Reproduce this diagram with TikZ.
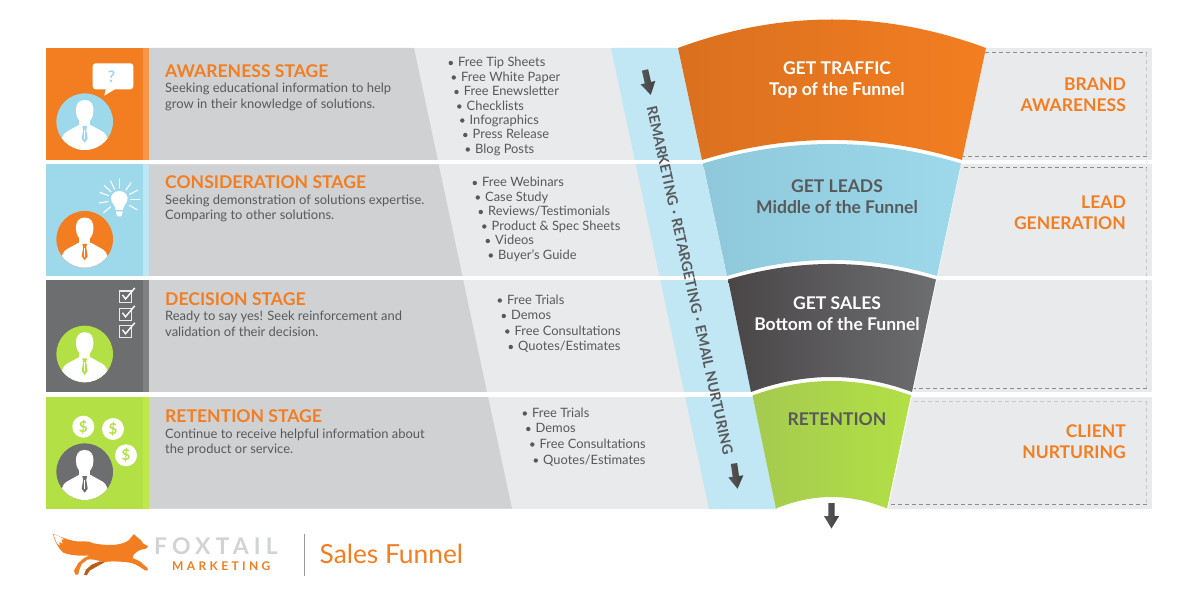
\documentclass[tikz,border=0pt]{standalone}
\usepackage{fontspec}
\setmainfont{Lato}
\newfontfamily\spacedA[LetterSpace=22]{Lato}
\newfontfamily\spacedB[LetterSpace=28]{Lato}
\definecolor{cOrange}{HTML}{F37E21}
\definecolor{cOrangeS}{HTML}{F79548}
\definecolor{cOrangeD}{HTML}{DA701F}
\definecolor{cBlue}{HTML}{9DD8EB}
\definecolor{cBlueS}{HTML}{BDE7F5}
\definecolor{cBlueD}{HTML}{8FC8DB}
\definecolor{cDark}{HTML}{6D6E70}
\definecolor{cDarkS}{HTML}{808183}
\definecolor{cDarkF}{HTML}{4A4648}
\definecolor{cGreen}{HTML}{B2E045}
\definecolor{cGreenS}{HTML}{BFE84A}
\definecolor{cGreenD}{HTML}{A5CA50}
\definecolor{cGray}{HTML}{D0D1D3}
\definecolor{cLight}{HTML}{E9EAEC}
\definecolor{cBand}{HTML}{C1E6F4}
\definecolor{cText}{HTML}{58595B}
\definecolor{cLogo}{HTML}{D1D3D4}
\tikzset{
  stagehead/.style={anchor=base west,inner sep=0pt,text=cOrange,font=\fontsize{17.55}{21}\selectfont\bfseries},
  stagebody/.style={anchor=base west,inner sep=0pt,text=cText,font=\fontsize{12.95}{15}\selectfont},
  listitem/.style={anchor=base west,inner sep=0pt,text=cText,font=\fontsize{12.9}{15}\selectfont},
  funneltext/.style={anchor=base,inner sep=0pt,font=\fontsize{17.5}{20}\selectfont\bfseries},
  sidetext/.style={anchor=base east,inner sep=0pt,text=cOrange,font=\fontsize{17.5}{21}\selectfont\bfseries},
  dashtop/.style={draw=black!45,line width=.8pt,dash pattern=on 4pt off 3pt},
  dashside/.style={draw=black!22,line width=.8pt,dash pattern=on 4pt off 3pt},
  rayline/.style={draw=white,line width=1.1pt,line cap=round},
  checkbox/.style={draw=white!92!black,line width=1.2pt,fill=none},
}
% person icon on a disc
\newcommand{\personicon}[3]{%
  \begin{scope}[shift={(#1,#2)}]
    \fill[#3] (0,0) circle (28.3);
    \begin{scope}
      \clip (0,0) circle (28.3);
      \fill[white] (-5.5,-4) rectangle (5.5,8);
      \fill[white] (0,-21.8) .. controls (-6.5,-21.8) and (-8.8,-17) .. (-8.8,-11)
        .. controls (-8.8,-4) and (-5,1.5) .. (0,1.5)
        .. controls (5,1.5) and (8.8,-4) .. (8.8,-11)
        .. controls (8.8,-17) and (6.5,-21.8) .. (0,-21.8) -- cycle;
      \fill[white] (-6.3,3.5) -- (-18,10) .. controls (-22,12) and (-24,18) .. (-25,30)
        -- (25,30) .. controls (24,18) and (22,12) .. (18,10) -- (6.3,3.5) -- cycle;
      \fill[#3] (-2.4,4.5) -- (2.4,4.5) -- (1.5,8) -- (3,17) -- (0,21) -- (-3,17) -- (-1.5,8) -- cycle;
      \draw[white,line width=.9pt] (0,8.5) -- (0,17.5);
    \end{scope}
  \end{scope}}
\newcommand{\rowcells}[4]{% top, bottom, main colour, strip colour
  \fill[#3] (46.3,#1) rectangle (143.3,#2);
  \fill[#4] (143.3,#1) rectangle (149.3,#2);}
\newcommand{\listline}[3]{% x of text, baseline, text
  \fill[cText] (#1-7.2,#2-4) circle (2.2);
  \node[listitem] at (#1,#2) {#3};}
\newcommand{\blockarrow}[3]{% x, y of tail, rotation
  \begin{scope}[shift={(#1,#2)},rotate=#3]
    \shade[left color=cText,right color=black!75]
      (-3.2,0) -- (3.2,0) -- (3.2,13) -- (7.6,13) -- (0,25.5) -- (-7.6,13) -- (-3.2,13) -- cycle;
  \end{scope}}
\begin{document}
\begin{tikzpicture}[x=1pt,y=-1pt]
\useasboundingbox (0,0) rectangle (1200,601);
\fill[white] (0,0) rectangle (1200,601);
% row backgrounds
\fill[cLight] (46.3,48) rectangle (1152,160);
\fill[cLight] (46.3,164.3) rectangle (1152,276);
\fill[cLight] (46.3,280) rectangle (1152,392.3);
\fill[cLight] (46.3,396.7) rectangle (1152,508.5);
% gray panels
\fill[cGray] (149,48) -- (414,48) -- (437.8,160) -- (149,160) -- cycle;
\fill[cGray] (149,164.3) -- (438.7,164.3) -- (462.4,276) -- (149,276) -- cycle;
\fill[cGray] (149,280) -- (463.2,280) -- (487,392.3) -- (149,392.3) -- cycle;
\fill[cGray] (149,396.7) -- (488,396.7) -- (512,508.5) -- (149,508.5) -- cycle;
% side dashes
\draw[dashtop] (950,52.7) -- (1146.7,52.7);
\draw[dashside] (1146.7,52.7) -- (1146.7,156.7);
\draw[dashtop] (1146.7,156.7) -- (950,156.7);
\draw[dashtop] (950,167.7) -- (1146.7,167.7);
\draw[dashside] (1146.7,167.7) -- (1146.7,276);
\draw[dashside] (1146.7,280) -- (1146.7,388.3);
\draw[dashtop] (1146.7,388.3) -- (900,388.3);
\draw[dashside] (900,401) -- (1146.7,401);
\draw[dashside] (1146.7,401) -- (1146.7,504);
\draw[dashtop] (1146.7,504) -- (880,504);
% left colour cells
\rowcells{48}{160}{cOrange}{cOrangeS}
\rowcells{164.3}{276}{cBlue}{cBlueS}
\rowcells{280}{392.3}{cDark}{cDarkS}
\rowcells{396.7}{508.5}{cGreen}{cGreenS}
% remarketing band
\fill[cBand] (611,48) -- (678,48) -- (777,509) -- (709,509) -- cycle;
% white separators
\fill[white] (46,160) rectangle (1152,164.3);
\fill[white] (46,276) rectangle (1152,280);
\fill[white] (46,392.3) rectangle (1152,396.7);
% funnel silhouette
\fill[white] (678,48) .. controls (780.7,10) and (883.3,10) .. (986,48) -- (888,509.5) -- (777,509.5) -- cycle;
% funnel segments
\shade[left color=cOrangeD,middle color=cOrange,right color=cOrange]
  (678,48) .. controls (780.7,10) and (883.3,10) .. (986,48) -- (962,160)
  .. controls (875.3,133.3) and (788.7,133.3) .. (702,160) -- cycle;
\shade[left color=cBlueD,middle color=cBlue,right color=cBlue]
  (703,163.5) .. controls (789,137.5) and (875,137.5) .. (961,163.5) -- (937,276)
  .. controls (867,254.7) and (797,254.7) .. (727,276) -- cycle;
\shade[left color=cDarkF,right color=cDark]
  (728,279.5) .. controls (797.3,258.8) and (866.7,258.8) .. (936,279.5) -- (912,392)
  .. controls (858.3,372) and (804.7,372) .. (751,392) -- cycle;
\shade[left color=cGreenD,middle color=cGreen,right color=cGreen]
  (752.5,395.5) .. controls (805.3,376.2) and (858.2,376.2) .. (911,395.5) -- (887,508.5)
  .. controls (850,493.2) and (813,493.2) .. (776,508.5) -- cycle;
% stage titles and text
\node[stagehead] (h1) at (165,77.5) {AWARENESS STAGE};
\node[stagebody] (b1a) at (165,93) {Seeking educational information to help};
\node[stagebody] (b1b) at (165,109) {grow in their knowledge of solutions.};
\node[stagehead] (h2) at (165,189) {CONSIDERATION STAGE};
\node[stagebody] (b2a) at (165,204.5) {Seeking demonstration of solutions expertise.};
\node[stagebody] (b2b) at (165,220) {Comparing to other solutions.};
\node[stagehead] (h3) at (165,305.5) {DECISION STAGE};
\node[stagebody] (b3a) at (165,321) {Ready to say yes! Seek reinforcement and};
\node[stagebody] (b3a2) at (165,337) {validation of their decision.};
\node[stagehead] (h4) at (165,423) {RETENTION STAGE};
\node[stagebody] (b4a) at (165,438.5) {Continue to receive helpful information about};
\node[stagebody] (b4b) at (165,454) {the product or service.};
% lists
\listline{458}{67}{Free Tip Sheets}
\listline{461}{81.5}{Free White Paper}
\listline{463.7}{96}{Free Enewsletter}
\listline{466.5}{110.5}{Checklists}
\listline{469.5}{124.5}{Infographics}
\listline{472.5}{139}{Press Release}
\listline{475}{153.5}{Blog Posts}
\listline{482}{187}{Free Webinars}
\listline{485}{201.5}{Case Study}
\listline{488}{216}{Reviews/Testimonials}
\listline{491.5}{230.5}{Product \& Spec Sheets}
\listline{495}{245}{Videos}
\listline{498}{259.5}{Buyer's Guide}
\listline{507}{304.5}{Free Trials}
\listline{511}{320}{Demos}
\listline{514.5}{335.5}{Free Consultations}
\listline{518}{351}{Quotes/Estimates}
\listline{532}{417.5}{Free Trials}
\listline{535.5}{433}{Demos}
\listline{539.5}{448.5}{Free Consultations}
\listline{543}{464.5}{Quotes/Estimates}
% band text and arrows
\node[inner sep=0pt,text=cText,rotate=-77.6,font=\fontsize{14.3}{17}\selectfont\bfseries] (bandtext) at (690,280)
  {REMARKETING\hspace{4.5pt}·\hspace{4.5pt}RETARGETING\hspace{4.5pt}·\hspace{4.5pt}EMAIL NURTURING};
\blockarrow{645}{70}{13}
\blockarrow{734}{463.5}{8}
\blockarrow{831.5}{503}{0}
% funnel labels
\node[funneltext,text=white] (f1a) at (837,75) {GET TRAFFIC};
\node[funneltext,text=white] (f1b) at (837,96) {Top of the Funnel};
\node[funneltext,text=cText] (f2a) at (837,193) {GET LEADS};
\node[funneltext,text=cText] (f2b) at (837,214) {Middle of the Funnel};
\node[funneltext,text=white] (f3a) at (837,310) {GET SALES};
\node[funneltext,text=white] (f3b) at (837,331) {Bottom of the Funnel};
\node[funneltext,text=cText] (f4a) at (837,426) {RETENTION};
% side labels
\node[sidetext] (s1a) at (1126,91) {BRAND};
\node[sidetext] (s1b) at (1126,112) {AWARENESS};
\node[sidetext] (s2a) at (1126,209) {LEAD};
\node[sidetext] (s2b) at (1126,230) {GENERATION};
\node[sidetext] (s4a) at (1126,438) {CLIENT};
\node[sidetext] (s4b) at (1126,459) {NURTURING};
% person discs
\personicon{84.7}{121.7}{cBlue}
\personicon{84.7}{239.3}{cOrange}
\personicon{84.7}{354}{cGreen}
\personicon{84.7}{471.7}{cDark}
% speech bubble
\fill[white,rounded corners=3pt] (92.7,63.3) rectangle (133.3,89.3);
\fill[white] (106,88) -- (104.3,95.7) -- (117,88) -- cycle;
\node[inner sep=0pt,text=cBlue,font=\fontsize{16}{16}\selectfont\bfseries] (qmark) at (111.5,76.5) {?};
% bulb
\begin{scope}[shift={(119.3,199.5)}]
  \foreach \a in {0,27,55,90,115,137,160,190,220,-30}
    \draw[rayline] (-\a:11.5) -- (-\a:20.5);
  \fill[white] (0,-8.5) .. controls (-5.5,-8.5) and (-8.3,-4.5) .. (-8.3,-1)
    .. controls (-8.3,3) and (-4.5,5) .. (-3.5,10.5) -- (3.5,10.5)
    .. controls (4.5,5) and (8.3,3) .. (8.3,-1)
    .. controls (8.3,-4.5) and (5.5,-8.5) .. (0,-8.5) -- cycle;
  \fill[white] (-3.5,12) -- (3.5,12) -- (2.8,15) -- (1.5,17) -- (-1.5,17) -- (-2.8,15) -- cycle;
\end{scope}
% check boxes
\foreach \yy in {291,308.8,325.8}{
  \draw[checkbox] (119.6,\yy) rectangle (131.4,\yy+11.4);
  \draw[white,line width=1.4pt] (122.5,\yy+4) -- (125.5,\yy+8) -- (134.8,\yy-3);
}
% dollar coins
\foreach \cx/\cy/\nm in {83.3/426.7/c1,113/429/c2,126/455.3/c3}{
  \fill[white] (\cx,\cy) circle (11);
  \node[inner sep=0pt,text=cGreen,font=\fontsize{15}{15}\selectfont\bfseries] (\nm) at (\cx,\cy) {\$};
}
% logo fox
\begin{scope}[shift={(50,528)},x=.3333pt,y=-.3333pt]
  \fill[cOrange] (8,17) .. controls (30,25) and (50,36) .. (80,40)
    .. controls (95,42) and (110,36) .. (130,46)
    .. controls (165,52) and (205,56) .. (235,38)
    -- (252,18) -- (262,28) -- (272,36) -- (280,47) -- (295,55) -- (288,62) -- (270,66)
    .. controls (258,72) and (248,80) .. (248,90)
    -- (270,100) -- (292,120) -- (294,127) -- (285,127) -- (262,112)
    .. controls (240,100) and (215,102) .. (190,100)
    -- (160,102) .. controls (140,96) and (122,92) .. (112,95)
    -- (95,108) -- (87,128) -- (85,140) -- (76,140) -- (72,128) -- (85,105) -- (100,92) -- (118,82)
    .. controls (100,84) and (65,84) .. (40,74)
    .. controls (25,62) and (15,40) .. (8,17) -- cycle;
  \fill[white] (10,19) -- (25,24) -- (42,34) -- (34,35) -- (38,46) -- (28,42) -- (29,52) -- (21,46) -- cycle;
  \fill[cOrange!75!black] (150,100) -- (125,110) -- (108,125) -- (102,140) -- (110,142) -- (120,127) -- (140,116) -- (165,102) -- cycle;
\end{scope}
% logo text
\node[anchor=base west,inner sep=0pt,text=cLogo,font=\fontsize{23}{26}\selectfont\bfseries] (logo1) at (154,554.3) {\spacedA FOXTAIL};
\node[anchor=base west,inner sep=0pt,text=cOrange,font=\fontsize{12}{13}\selectfont\bfseries] (logo2) at (172,570) {\spacedB MARKETING};
\draw[draw=black!40,line width=.8pt] (304.5,534) -- (304.5,575.5);
\node[anchor=base west,inner sep=0pt,text=cOrange,font=\fontsize{26.3}{28}\selectfont] (title) at (319.5,563) {Sales Funnel};
\end{tikzpicture}
\end{document}
